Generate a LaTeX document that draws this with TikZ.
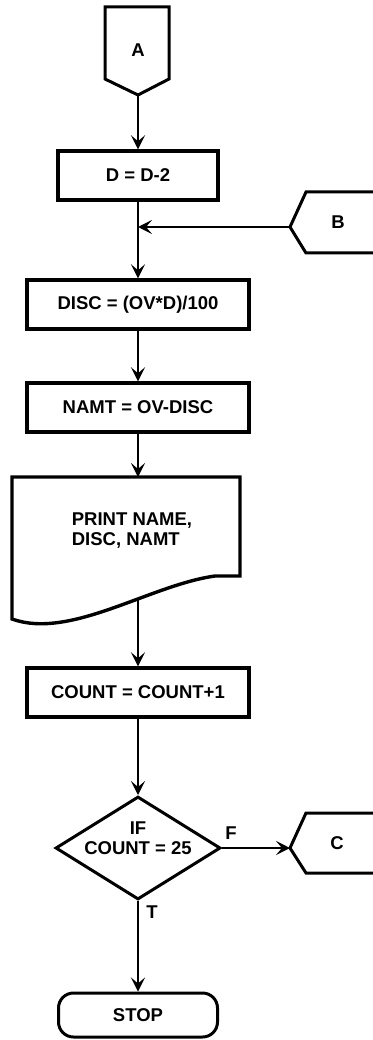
\documentclass[tikz,border=0pt]{standalone}
\usepackage{fontspec}
\setmainfont{Liberation Sans}
\usetikzlibrary{shapes.geometric,arrows.meta}
\begin{document}
\begin{tikzpicture}[x=1pt,y=-1pt,font=\fontsize{18.5}{20}\selectfont\bfseries,
  box/.style={draw,line width=3.4pt,minimum width=222pt,minimum height=49pt,inner sep=0pt},
  conn/.style={line width=3pt,line join=miter},
  decision/.style={draw,diamond,line width=3pt,minimum width=165pt,minimum height=103pt,inner sep=0pt},
  line/.style={line width=2.4pt,-{Stealth[length=14pt,width=14pt,inset=6pt]}},
  lbl/.style={inner sep=0pt}]
  \useasboundingbox (0,0) rectangle (372,1040);
  % connectors
  \draw[conn] (105,7) -- (169,7) -- (169,79) -- (138,95) -- (105,79) -- cycle;
  \node[lbl] (A) at (138,50) {A};
  \coordinate (Aout) at (138,95);
  \draw[conn] (380,192) -- (306,192) -- (290,227) -- (306,253) -- (380,253);
  \node[lbl] (B) at (338,222) {B};
  \coordinate (Bout) at (290,227);
  \draw[conn] (380,813) -- (306,813) -- (290,848) -- (306,873) -- (380,873);
  \node[lbl] (C) at (337,843) {C};
  \coordinate (Cin) at (290,848);
  % process boxes
  \node[box,minimum width=160pt] (D) at (138,175.5) {D = D-2};
  \node[box] (DISC) at (138,304.5) {DISC = (OV*D)/100};
  \node[box] (NAMT) at (138,407.5) {NAMT = OV-DISC};
  % print document
  \draw[line width=3.4pt] (12,477) -- (240,477) -- (240,576) -- (215,576)
    .. controls (150,585) and (70,640) .. (12,619) -- cycle;
  \node[lbl,align=left] (print) at (132,531) {PRINT NAME,\\DISC, NAMT};
  \coordinate (ptop) at (138,477);
  \coordinate (pbot) at (138,600);
  \node[box] (COUNT) at (138,692.5) {COUNT = COUNT+1};
  \node[decision] (dec) at (138,848) {};
  \node[lbl,align=center] (ifc) at (138,838) {IF\\COUNT = 25};
  \node[draw,line width=3pt,rounded corners=15pt,minimum width=159pt,minimum height=44pt] (STOP) at (138,1015) {STOP};
  \node[lbl] (F) at (231,833) {F};
  \node[lbl] (T) at (152,912) {T};
  % flow
  \coordinate (jn) at (D.south |- Bout);
  \draw[line] (Aout) -- (D.north);
  \draw[line] (D.south) -- (DISC.north);
  \draw[line] (Bout) -- (jn);
  \draw[line] (DISC.south) -- (NAMT.north);
  \draw[line] (NAMT.south) -- (ptop);
  \draw[line] (pbot) -- (COUNT.north);
  \draw[line] (COUNT.south) -- (dec.north);
  \draw[line] (dec.east) -- (Cin);
  \draw[line] (dec.south) -- (STOP.north);
\end{tikzpicture}
\end{document}
